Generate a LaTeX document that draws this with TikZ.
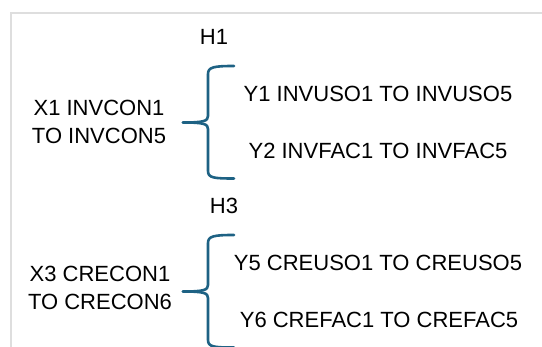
\documentclass[tikz,border=0pt]{standalone}
\usepackage{fontspec}
\setmainfont{Liberation Sans}
\definecolor{bracecol}{RGB}{30,98,132}
\definecolor{framecol}{RGB}{222,222,222}
\tikzset{
  lbl/.style = {anchor=base, inner sep=0pt, font=\fontsize{22}{28}\selectfont},
  curly/.style = {bracecol, line width=2.6pt, line cap=round, line join=round},
  frame/.style = {framecol, line width=2pt}
}

\begin{document}
\begin{tikzpicture}[x=1pt, y=-1pt]
\useasboundingbox (0, 0) rectangle (542, 347);
\draw [frame] (11, 347) -- (11, 13) -- (542, 13);
% first group
\node [lbl] (h1) at (214, 44.5) {H1};
\node [lbl, align=center] (x1) at (99, 144) {X1 INVCON1\\TO INVCON5};
\node [lbl] (y1) at (378, 101.7) {Y1 INVUSO1 TO INVUSO5};
\node [lbl] (y2) at (378, 158.3) {Y2 INVFAC1 TO INVFAC5};
\draw [curly] (234, 66) .. controls (214, 66) and (208, 67) .. (208, 74) -- (208, 116)
  .. controls (208, 121) and (204, 122.5) .. (183, 122.5);
\draw [curly] (183, 122.5) .. controls (204, 122.5) and (208, 124) .. (208, 129) -- (208, 171)
  .. controls (208, 178) and (214, 178.5) .. (234, 178.5);
% second group
\begin{scope}[shift={(0, 169)}]
\node [lbl] (h3) at (224, 44.5) {H3};
\node [lbl, align=center] (x3) at (100, 141) {X3 CRECON1\\TO CRECON6};
\node [lbl] (y5) at (378, 102) {Y5 CREUSO1 TO CREUSO5};
\node [lbl] (y6) at (379, 158.7) {Y6 CREFAC1 TO CREFAC5};
\draw [curly] (234, 66) .. controls (214, 66) and (208, 67) .. (208, 74) -- (208, 116)
  .. controls (208, 121) and (204, 122.5) .. (183, 122.5);
\draw [curly] (183, 122.5) .. controls (204, 122.5) and (208, 124) .. (208, 129) -- (208, 171)
  .. controls (208, 178) and (214, 178.5) .. (234, 178.5);
\end{scope}
\end{tikzpicture}
\end{document}
